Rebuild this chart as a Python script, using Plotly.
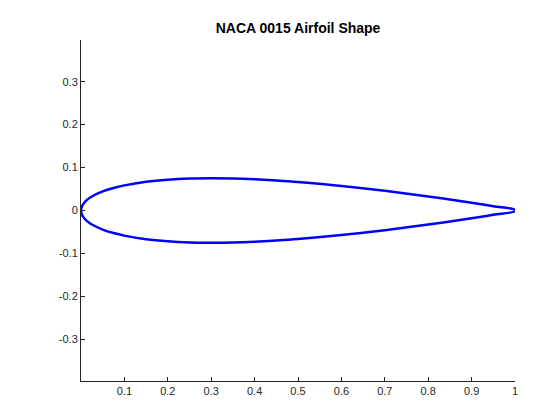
import plotly.graph_objects as go

# upper surface of the section (lower is the mirror)
x_upper = [0.0, 0.0025, 0.005, 0.0125, 0.025, 0.05, 0.075, 0.1, 0.15, 0.2, 0.25, 0.3,
           0.35, 0.4, 0.45, 0.5, 0.6, 0.7, 0.8, 0.9, 0.95, 1.0]
y_upper = [0.0, 0.0105, 0.0148, 0.0237, 0.0327, 0.0444, 0.0525, 0.0585, 0.0668, 0.0717,
           0.0743, 0.0750, 0.0744, 0.0725, 0.0697, 0.0662, 0.0570, 0.0458, 0.0328, 0.0181,
           0.0101, 0.0016]

x_all = x_upper[::-1] + x_upper[1:] + [1.0]
y_all = y_upper[::-1] + [-v for v in y_upper[1:]] + [0.0016]

xticks = [0.1, 0.2, 0.3, 0.4, 0.5, 0.6, 0.7, 0.8, 0.9, 1]
yticks = [-0.3, -0.2, -0.1, 0, 0.1, 0.2, 0.3]

fig = go.Figure()
fig.add_trace(go.Scatter(x=x_all, y=y_all, mode="lines", line_shape="spline",
                         line=dict(color="#0000ff", width=2.5), showlegend=False))

axis_style = dict(showgrid=False, zeroline=False, showline=True, linecolor="#262626",
                  linewidth=1, ticks="inside", ticklen=4, tickcolor="#262626",
                  automargin=False,
                  tickfont=dict(family="Liberation Sans, Arial", size=11, color="#262626"))
fig.update_xaxes(range=[0, 1], tickvals=xticks, ticktext=[str(t) for t in xticks], **axis_style)
fig.update_yaxes(range=[-0.397, 0.397], tickvals=yticks, ticktext=[str(t) for t in yticks],
                 **axis_style)

fig.update_layout(
    width=560, height=420,
    margin=dict(l=73, r=53, t=32, b=47, autoexpand=False),
    paper_bgcolor="white", plot_bgcolor="white",
    title=dict(text="<b>NACA 0015 Airfoil Shape</b>", x=0.518, xanchor="center",
               y=0.952, yanchor="middle",
               font=dict(family="Liberation Sans, Arial", size=14, color="black")),
)

fig.write_html("out.html")
